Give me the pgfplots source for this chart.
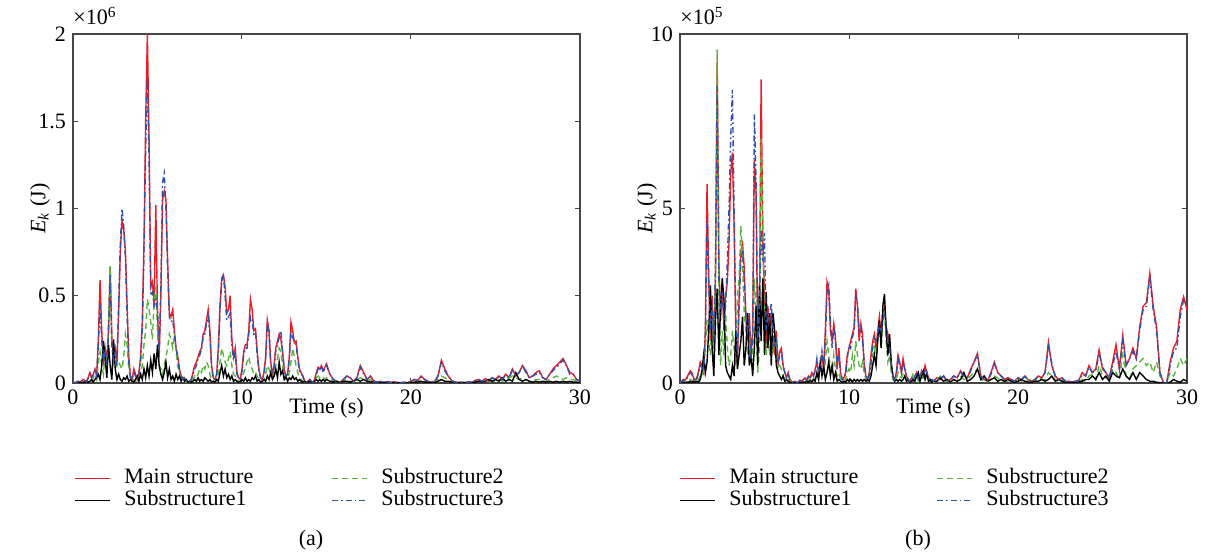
\documentclass[border=0pt]{standalone}
\usepackage{fontspec}
\setmainfont{Liberation Serif}
\usepackage{pgfplots}
\usepackage{pgfplotstable}
\pgfplotsset{compat=1.18}

\definecolor{cmain}{RGB}{237,28,36}
\definecolor{csubtwo}{RGB}{90,180,60}
\definecolor{csubthree}{RGB}{50,80,170}
\definecolor{caxis}{RGB}{70,70,70}

% (a) values in 10^6 J
\pgfplotstableread{
t main s1 s2 s3
0.0 0 0 0 0
0.1 0.002 0.001 0.001 0.002
0.2 0.005 0.002 0.002 0.004
0.3 0.01 0.003 0.004 0.009
0.4 0.006 0.002 0.003 0.005
0.5 0.012 0.004 0.006 0.011
0.6 0.02 0.003 0.008 0.018
0.7 0.015 0.006 0.005 0.014
0.8 0.008 0.002 0.004 0.007
0.9 0.03 0.005 0.01 0.028
1.0 0.06 0.01 0.02 0.055
1.1 0.03 0.02 0.01 0.03
1.2 0.05 0.005 0.03 0.045
1.3 0.08 0.02 0.05 0.07
1.4 0.04 0.03 0.02 0.04
1.5 0.25 0.05 0.12 0.22
1.6 0.59 0.02 0.18 0.45
1.7 0.30 0.10 0.10 0.25
1.8 0.10 0.24 0.05 0.12
1.9 0.20 0.15 0.17 0.18
2.0 0.12 0.03 0.08 0.10
2.1 0.30 0.22 0.35 0.28
2.2 0.66 0.10 0.67 0.62
2.3 0.25 0.02 0.20 0.22
2.4 0.15 0.25 0.12 0.12
2.5 0.20 0.08 0.18 0.18
2.6 0.12 0.02 0.10 0.10
2.7 0.40 0.05 0.12 0.45
2.8 0.75 0.02 0.10 0.80
2.9 0.93 0.01 0.08 1.00
3.0 0.88 0.03 0.15 0.90
3.1 0.76 0.02 0.28 0.72
3.2 0.45 0.04 0.22 0.40
3.3 0.15 0.01 0.08 0.12
3.4 0.04 0.02 0.03 0.03
3.5 0.02 0.01 0.01 0.02
3.6 0.08 0.005 0.02 0.06
3.7 0.05 0.02 0.01 0.04
3.8 0.02 0.04 0.01 0.02
3.9 0.06 0.01 0.03 0.05
4.0 0.15 0.05 0.05 0.12
4.1 0.35 0.02 0.10 0.30
4.2 0.80 0.08 0.22 0.75
4.3 1.50 0.03 0.30 1.35
4.4 2.00 0.10 0.48 1.75
4.5 1.40 0.04 0.42 1.30
4.6 0.55 0.13 0.35 0.50
4.7 0.58 0.06 0.25 0.52
4.8 0.45 0.17 0.48 0.44
4.9 1.02 0.08 0.55 0.48
5.0 0.40 0.22 0.30 0.42
5.1 0.15 0.10 0.10 0.18
5.2 0.50 0.05 0.08 0.55
5.3 1.05 0.02 0.05 1.15
5.4 1.10 0.06 0.10 1.20
5.5 1.05 0.12 0.15 1.00
5.6 0.70 0.03 0.20 0.65
5.7 0.40 0.08 0.28 0.38
5.8 0.38 0.02 0.25 0.35
5.9 0.42 0.04 0.20 0.36
6.0 0.30 0.01 0.28 0.28
6.1 0.20 0.05 0.18 0.20
6.2 0.15 0.02 0.10 0.14
6.3 0.08 0.04 0.05 0.07
6.4 0.04 0.01 0.02 0.04
6.5 0.02 0.03 0.01 0.02
6.6 0.03 0.01 0.02 0.03
6.7 0.01 0.02 0.005 0.01
6.8 0.005 0.005 0.002 0.004
6.9 0.01 0.01 0.005 0.01
7.0 0.02 0.005 0.01 0.02
7.1 0.06 0.01 0.02 0.05
7.2 0.10 0.02 0.04 0.08
7.3 0.12 0.01 0.03 0.10
7.4 0.15 0.03 0.05 0.14
7.5 0.18 0.01 0.08 0.16
7.6 0.20 0.02 0.06 0.19
7.7 0.28 0.01 0.10 0.26
7.8 0.30 0.03 0.08 0.28
7.9 0.36 0.02 0.12 0.34
8.0 0.42 0.01 0.10 0.38
8.1 0.30 0.02 0.05 0.28
8.2 0.10 0.005 0.02 0.09
8.3 0.03 0.01 0.01 0.03
8.4 0.02 0.005 0.005 0.02
8.5 0.05 0.02 0.02 0.04
8.6 0.20 0.01 0.05 0.18
8.7 0.45 0.06 0.12 0.42
8.8 0.60 0.10 0.20 0.58
8.9 0.62 0.04 0.16 0.62
9.0 0.55 0.08 0.12 0.50
9.1 0.40 0.03 0.10 0.36
9.2 0.42 0.05 0.14 0.38
9.3 0.50 0.02 0.18 0.40
9.4 0.25 0.04 0.10 0.22
9.5 0.15 0.01 0.05 0.13
9.6 0.20 0.02 0.04 0.18
9.7 0.06 0.01 0.02 0.05
9.8 0.03 0.005 0.01 0.03
9.9 0.02 0.01 0.01 0.02
10.0 0.08 0.02 0.03 0.07
10.1 0.18 0.01 0.06 0.16
10.2 0.22 0.03 0.09 0.20
10.3 0.22 0.01 0.12 0.20
10.4 0.30 0.02 0.15 0.28
10.5 0.48 0.01 0.10 0.38
10.6 0.42 0.03 0.08 0.36
10.7 0.30 0.02 0.05 0.28
10.8 0.31 0.04 0.06 0.29
10.9 0.18 0.01 0.04 0.16
11.0 0.08 0.02 0.02 0.07
11.1 0.03 0.005 0.01 0.03
11.2 0.02 0.01 0.01 0.02
11.3 0.06 0.02 0.02 0.05
11.4 0.15 0.01 0.05 0.14
11.5 0.36 0.04 0.10 0.35
11.6 0.30 0.02 0.08 0.28
11.7 0.12 0.06 0.05 0.11
11.8 0.05 0.02 0.03 0.05
11.9 0.10 0.04 0.06 0.09
12.0 0.20 0.08 0.10 0.19
12.1 0.24 0.03 0.14 0.22
12.2 0.28 0.12 0.20 0.26
12.3 0.25 0.05 0.18 0.30
12.4 0.18 0.07 0.10 0.18
12.5 0.08 0.02 0.04 0.07
12.6 0.04 0.04 0.02 0.04
12.7 0.05 0.01 0.02 0.05
12.8 0.15 0.03 0.06 0.14
12.9 0.35 0.02 0.12 0.30
13.0 0.30 0.04 0.20 0.26
13.1 0.23 0.02 0.15 0.24
13.2 0.24 0.03 0.10 0.22
13.3 0.15 0.01 0.06 0.14
13.4 0.08 0.02 0.03 0.07
13.5 0.06 0.01 0.02 0.05
13.6 0.04 0.005 0.01 0.04
13.7 0.01 0.01 0.005 0.01
13.8 0.005 0.002 0.002 0.005
13.9 0.01 0.005 0.004 0.01
14.0 0.02 0.01 0.01 0.02
14.1 0.01 0.005 0.005 0.01
14.2 0.005 0.002 0.002 0.004
14.3 0.02 0.01 0.01 0.02
14.4 0.06 0.02 0.03 0.05
14.5 0.09 0.01 0.04 0.08
14.6 0.08 0.02 0.03 0.07
14.7 0.10 0.01 0.04 0.10
14.8 0.07 0.02 0.03 0.06
14.9 0.09 0.01 0.02 0.08
15.0 0.11 0.02 0.03 0.10
15.2 0.05 0.01 0.02 0.05
15.4 0.02 0.005 0.01 0.02
15.6 0.01 0.01 0.005 0.01
15.8 0.005 0.002 0.002 0.005
16.0 0.02 0.01 0.01 0.02
16.2 0.04 0.01 0.02 0.04
16.4 0.03 0.005 0.01 0.03
16.6 0.01 0.01 0.005 0.01
16.8 0.03 0.02 0.02 0.03
17.0 0.10 0.01 0.03 0.09
17.2 0.06 0.02 0.02 0.05
17.4 0.02 0.01 0.01 0.02
17.6 0.04 0.005 0.02 0.04
17.8 0.01 0.01 0.005 0.01
18.0 0.005 0.005 0.002 0.005
18.2 0.01 0.002 0.005 0.01
18.4 0.004 0.002 0.002 0.004
18.6 0.008 0.003 0.004 0.007
18.8 0.003 0.002 0.001 0.003
19.0 0.006 0.002 0.003 0.006
19.2 0.003 0.001 0.001 0.003
19.4 0.002 0.001 0.001 0.002
19.6 0.004 0.002 0.002 0.004
19.8 0.002 0.001 0.001 0.002
20.0 0.01 0.003 0.005 0.01
20.2 0.02 0.005 0.01 0.02
20.4 0.015 0.005 0.005 0.015
20.6 0.04 0.01 0.02 0.035
20.8 0.02 0.005 0.01 0.02
21.0 0.01 0.005 0.005 0.01
21.2 0.005 0.002 0.002 0.005
21.4 0.01 0.003 0.005 0.01
21.6 0.04 0.01 0.02 0.04
21.8 0.13 0.02 0.04 0.12
22.0 0.08 0.01 0.03 0.07
22.2 0.04 0.01 0.02 0.04
22.4 0.015 0.005 0.005 0.015
22.6 0.005 0.002 0.002 0.005
22.8 0.003 0.002 0.001 0.003
23.0 0.004 0.002 0.002 0.004
23.2 0.003 0.001 0.001 0.003
23.4 0.006 0.002 0.003 0.006
23.6 0.004 0.002 0.002 0.004
23.8 0.015 0.005 0.005 0.014
24.0 0.02 0.01 0.01 0.02
24.2 0.01 0.005 0.005 0.01
24.4 0.025 0.01 0.01 0.02
24.6 0.01 0.02 0.005 0.01
24.8 0.03 0.01 0.01 0.03
25.0 0.02 0.02 0.01 0.02
25.2 0.04 0.01 0.02 0.035
25.4 0.02 0.03 0.01 0.02
25.6 0.05 0.01 0.02 0.045
25.8 0.03 0.02 0.03 0.03
26.0 0.08 0.01 0.04 0.07
26.2 0.04 0.06 0.03 0.04
26.4 0.06 0.02 0.02 0.06
26.6 0.10 0.01 0.03 0.10
26.8 0.07 0.02 0.02 0.06
27.0 0.03 0.01 0.01 0.03
27.2 0.04 0.005 0.01 0.04
27.4 0.06 0.01 0.02 0.05
27.6 0.07 0.005 0.02 0.06
27.8 0.03 0.01 0.01 0.03
28.0 0.02 0.005 0.01 0.02
28.2 0.05 0.01 0.02 0.05
28.4 0.08 0.005 0.03 0.07
28.6 0.10 0.01 0.04 0.09
28.8 0.12 0.005 0.03 0.11
29.0 0.14 0.01 0.02 0.13
29.2 0.10 0.005 0.03 0.10
29.4 0.06 0.01 0.02 0.05
29.6 0.05 0.005 0.02 0.05
29.8 0.02 0.005 0.01 0.02
30.0 0.01 0.002 0.005 0.01
}\dataA

% (b) values in 10^5 J
\pgfplotstableread{
t main s1 s2 s3
0.0 0 0 0 0
0.1 0.05 0.01 0.02 0.04
0.2 0.1 0.02 0.03 0.08
0.3 0.08 0.01 0.02 0.07
0.4 0.15 0.03 0.05 0.12
0.5 0.25 0.02 0.08 0.2
0.6 0.35 0.05 0.1 0.3
0.7 0.30 0.02 0.08 0.25
0.8 0.15 0.05 0.05 0.12
0.9 0.08 0.02 0.03 0.06
1.0 0.15 0.05 0.06 0.12
1.1 0.35 0.03 0.1 0.3
1.2 0.6 0.1 0.2 0.5
1.3 0.5 0.35 0.15 0.45
1.4 0.3 0.8 0.4 0.35
1.5 1.5 0.3 1.0 1.4
1.6 5.7 0.6 1.8 4.7
1.7 3.0 1.5 1.2 2.8
1.8 1.2 2.8 0.8 1.5
1.9 2.5 1.0 2.0 2.2
2.0 1.0 0.2 0.5 1.2
2.1 3.0 1.8 3.5 3.2
2.2 9.2 2.7 9.55 8.5
2.3 3.5 0.8 2.5 3.0
2.4 1.8 2.2 0.5 2.0
2.5 2.8 3.0 1.5 2.6
2.6 1.5 2.4 0.8 1.8
2.7 2.5 0.5 2.0 2.2
2.8 2.9 0.3 1.0 3.5
2.9 4.0 0.2 0.5 5.0
3.0 6.0 0.1 0.8 7.0
3.1 6.6 0.5 1.5 8.4
3.2 4.5 0.2 1.0 5.0
3.3 1.5 1.5 0.5 1.8
3.4 0.6 0.4 2.5 0.8
3.5 2.5 0.8 3.0 2.2
3.6 3.8 1.2 4.5 3.5
3.7 4.0 1.9 3.5 3.8
3.8 3.3 0.5 2.0 3.0
3.9 1.8 1.0 1.5 2.0
4.0 1.2 2.0 0.8 1.5
4.1 2.0 0.5 1.5 1.8
4.2 0.8 0.8 0.5 0.7
4.3 1.5 0.2 0.8 1.3
4.4 6.4 1.0 3.0 7.7
4.5 5.5 2.2 2.0 5.8
4.6 1.0 0.5 0.3 1.2
4.7 1.8 2.8 1.0 2.2
4.8 8.7 1.2 7.0 4.4
4.9 4.0 3.0 4.5 3.5
5.0 2.5 0.8 1.5 4.3
5.1 1.0 2.6 0.8 1.5
5.2 2.2 1.0 1.5 2.0
5.3 1.5 2.0 0.8 1.8
5.4 2.0 0.5 1.2 2.3
5.5 1.2 2.0 0.8 1.5
5.6 0.8 1.5 1.3 1.0
5.7 1.5 0.5 1.0 1.2
5.8 0.5 0.3 0.4 0.6
5.9 0.9 0.2 0.5 0.8
6.0 1.0 0.1 0.4 0.9
6.1 0.5 0.2 0.2 0.5
6.2 0.3 0.05 0.1 0.3
6.3 0.15 0.1 0.05 0.15
6.4 0.3 0.05 0.1 0.25
6.5 0.1 0.02 0.05 0.1
6.6 0.05 0.01 0.02 0.04
6.7 0.02 0.01 0.01 0.02
6.8 0.05 0.01 0.02 0.05
6.9 0.01 0.005 0.005 0.01
7.0 0.03 0.01 0.01 0.03
7.1 0.08 0.02 0.03 0.07
7.2 0.05 0.01 0.02 0.05
7.3 0.1 0.03 0.05 0.1
7.4 0.15 0.02 0.08 0.14
7.5 0.08 0.05 0.05 0.08
7.6 0.2 0.02 0.1 0.18
7.7 0.15 0.08 0.05 0.12
7.8 0.3 0.03 0.12 0.25
7.9 0.2 0.1 0.08 0.2
8.0 0.4 0.05 0.15 0.35
8.1 0.6 0.3 0.2 0.7
8.2 0.3 0.1 0.1 0.35
8.3 0.5 0.6 0.4 0.4
8.4 0.8 0.2 0.3 0.9
8.5 0.4 0.5 0.2 0.5
8.6 1.5 0.1 0.6 1.2
8.7 2.9 0.3 1.2 2.6
8.8 2.7 0.6 0.8 2.8
8.9 1.5 0.2 0.5 1.8
9.0 1.2 0.5 0.3 1.0
9.1 1.7 0.1 0.8 1.6
9.2 1.3 0.3 0.4 1.2
9.3 0.4 0.05 0.2 0.5
9.4 1.0 0.1 0.3 0.8
9.5 0.3 0.05 0.1 0.3
9.6 0.1 0.02 0.05 0.1
9.7 0.15 0.05 0.05 0.12
9.8 0.3 0.02 0.1 0.25
9.9 0.8 0.1 0.3 0.7
10.0 1.0 0.05 0.4 1.1
10.1 1.2 0.1 0.3 1.0
10.2 1.4 0.03 0.8 1.3
10.3 1.6 0.1 0.5 1.5
10.4 2.7 0.05 1.2 2.5
10.5 2.2 0.1 0.8 2.3
10.6 1.2 0.05 0.5 1.5
10.7 1.7 0.1 0.4 1.6
10.8 1.4 0.05 0.6 1.2
10.9 0.5 0.1 0.3 0.6
11.0 0.2 0.05 0.1 0.2
11.1 0.1 0.1 0.05 0.1
11.2 0.3 0.05 0.1 0.25
11.3 0.8 0.2 0.4 0.6
11.4 1.2 0.5 0.8 1.0
11.5 1.4 0.8 1.0 1.3
11.6 1.0 0.5 0.5 1.2
11.7 1.5 1.2 1.4 1.3
11.8 1.9 1.8 1.6 1.7
11.9 1.3 1.0 1.0 1.5
12.0 2.0 2.2 1.8 1.8
12.1 2.2 2.55 2.0 2.0
12.2 1.6 1.5 1.2 1.7
12.3 1.4 0.8 0.6 1.2
12.4 1.2 1.4 0.8 1.0
12.5 0.5 0.6 0.3 0.5
12.6 0.2 0.2 0.1 0.2
12.7 0.1 0.05 0.05 0.1
12.8 0.3 0.1 0.1 0.25
12.9 0.8 0.05 0.3 0.7
13.0 0.6 0.1 0.2 0.5
13.1 0.3 0.05 0.15 0.3
13.2 0.7 0.1 0.25 0.6
13.3 0.4 0.2 0.2 0.4
13.4 0.2 0.05 0.1 0.2
13.5 0.1 0.1 0.05 0.1
13.6 0.05 0.02 0.02 0.05
13.7 0.15 0.05 0.1 0.15
13.8 0.05 0.1 0.3 0.08
13.9 0.2 0.05 0.1 0.2
14.0 0.3 0.2 0.15 0.25
14.1 0.1 0.3 0.05 0.1
14.2 0.2 0.05 0.3 0.18
14.3 0.35 0.2 0.2 0.3
14.4 0.2 0.35 0.1 0.25
14.5 0.5 0.1 0.2 0.4
14.6 0.3 0.3 0.25 0.3
14.7 0.15 0.05 0.1 0.15
14.8 0.05 0.1 0.05 0.05
14.9 0.1 0.02 0.05 0.1
15.0 0.05 0.05 0.02 0.05
15.2 0.15 0.05 0.1 0.12
15.4 0.1 0.15 0.2 0.1
15.6 0.2 0.05 0.1 0.2
15.8 0.05 0.1 0.05 0.05
16.0 0.1 0.03 0.05 0.1
16.2 0.2 0.1 0.1 0.2
16.4 0.15 0.05 0.05 0.15
16.6 0.35 0.1 0.2 0.3
16.8 0.2 0.3 0.1 0.2
17.0 0.15 0.05 0.1 0.15
17.2 0.4 0.1 0.2 0.35
17.4 0.6 0.2 0.3 0.6
17.6 0.85 0.4 0.4 0.8
17.8 0.2 0.1 0.1 0.2
18.0 0.1 0.2 0.05 0.1
18.2 0.05 0.05 0.03 0.05
18.4 0.3 0.1 0.1 0.25
18.6 0.6 0.15 0.2 0.55
18.8 0.3 0.05 0.15 0.3
19.0 0.2 0.1 0.05 0.2
19.2 0.1 0.05 0.05 0.1
19.4 0.15 0.1 0.05 0.15
19.6 0.1 0.05 0.1 0.1
19.8 0.05 0.02 0.05 0.05
20.0 0.15 0.05 0.1 0.15
20.2 0.1 0.1 0.05 0.1
20.4 0.2 0.05 0.25 0.18
20.6 0.1 0.03 0.05 0.1
20.8 0.05 0.02 0.03 0.05
21.0 0.1 0.05 0.05 0.1
21.2 0.2 0.05 0.15 0.18
21.4 0.15 0.1 0.1 0.15
21.6 0.3 0.05 0.1 0.3
21.8 1.17 0.1 0.3 1.05
22.0 0.5 0.2 0.2 0.55
22.2 0.2 0.05 0.1 0.2
22.4 0.1 0.1 0.05 0.1
22.6 0.15 0.05 0.1 0.15
22.8 0.05 0.02 0.03 0.05
23.0 0.05 0.01 0.02 0.05
23.2 0.03 0.02 0.01 0.03
23.4 0.05 0.01 0.02 0.05
23.6 0.08 0.03 0.03 0.07
23.8 0.3 0.05 0.1 0.25
24.0 0.2 0.1 0.05 0.2
24.2 0.5 0.1 0.2 0.45
24.4 0.3 0.2 0.25 0.3
24.6 0.4 0.1 0.1 0.35
24.8 0.95 0.3 0.5 0.85
25.0 0.4 0.1 0.2 0.45
25.2 0.3 0.2 0.15 0.3
25.4 0.15 0.05 0.1 0.15
25.6 0.6 0.3 0.4 0.5
25.8 1.1 0.2 0.3 0.9
26.0 0.4 0.15 0.1 0.4
26.2 1.37 0.4 0.8 1.2
26.4 0.5 0.2 0.2 0.5
26.6 0.7 0.1 0.1 0.7
26.8 1.0 0.3 0.4 0.9
27.0 0.7 0.1 0.5 0.7
27.2 1.6 0.3 0.6 1.5
27.4 2.2 0.2 0.7 2.1
27.6 2.3 0.1 0.5 2.2
27.8 3.15 0.05 0.6 3.05
28.0 2.2 0.05 0.3 2.1
28.2 1.6 0.02 0.6 1.5
28.4 0.3 0.01 0.2 0.3
28.6 0.0 0.0 0.0 0.0
28.8 0.0 0.0 0.0 0.0
29.0 0.6 0.02 0.3 0.5
29.2 1.0 0.1 0.2 0.9
29.4 1.2 0.05 0.4 1.0
29.6 2.1 0.02 0.7 1.9
29.8 2.47 0.1 0.5 2.4
30.0 2.1 0.05 0.7 2.2
}\dataB

\tikzset{
  mainst/.style={draw=cmain, line width=0.7pt},
  subone/.style={draw=black, line width=0.7pt},
  subtwo/.style={draw=csubtwo, line width=0.7pt, dash pattern=on 3pt off 2pt},
  subthree/.style={draw=csubthree, line width=0.7pt, dash pattern=on 3pt off 1.5pt on 0.8pt off 1.5pt},
}

\pgfplotsset{
  kplot/.style={
    scale only axis, width=253.5pt, height=174.5pt,
    xmin=0, xmax=30, xtick={0,10,20,30},
    ymin=0,
    axis line style={caxis, line width=0.6pt},
    every tick/.style={caxis, line width=0.5pt},
    tick align=inside, major tick length=2.5pt,
    font=\fontsize{11}{13}\selectfont,
    /pgf/number format/assume math mode=true,
    scaled ticks=false,
    xlabel={Time (s)},
    ylabel={{\itshape E}\textsubscript{\itshape k} (J)},
    xlabel style={at={(axis description cs:0.5,-0.072)}, anchor=center},
    ylabel style={at={(axis description cs:-0.065,0.5)}, anchor=center},
  },
}

% key below an axis: #1 axis name, #2 horizontal offset
\newcommand{\kkey}[2]{%
  \begin{scope}[shift={([xshift=#2]#1.south west)}, font=\fontsize{11}{13}\selectfont]
    \draw[mainst, color=cmain, line width=0.85pt]   (0pt,-47.7pt) -- (17.5pt,-47.7pt);
    \node[anchor=base west, inner sep=0pt] at (24.5pt,-50.5pt) {Main structure};
    \draw[subone, color=black, line width=0.85pt]   (0pt,-58.7pt) -- (17.5pt,-58.7pt);
    \node[anchor=base west, inner sep=0pt] at (24.5pt,-61.5pt) {Substructure1};
    \draw[subtwo, color=csubtwo, line width=0.85pt]   (128.5pt,-47.7pt) -- (146pt,-47.7pt);
    \node[anchor=base west, inner sep=0pt] at (153pt,-50.5pt) {Substructure2};
    \draw[subthree, color=csubthree, line width=0.85pt] (128.5pt,-58.7pt) -- (146pt,-58.7pt);
    \node[anchor=base west, inner sep=0pt] at (153pt,-61.5pt) {Substructure3};
  \end{scope}}

\begin{document}
\begin{tikzpicture}
\useasboundingbox (-36.5pt,-86.5pt) rectangle (566pt,191.5pt);

\begin{axis}[kplot, name=pa, at={(0pt,0pt)}, anchor=south west,
  ymax=2, ytick={0,0.5,1,1.5,2}]
\addplot[mainst] table[x=t,y=main] {\dataA};
\addplot[subtwo] table[x=t,y=s2] {\dataA};
\addplot[subone] table[x=t,y=s1] {\dataA};
\addplot[subthree] table[x=t,y=s3] {\dataA};
\end{axis}
\node[anchor=base west, inner sep=0pt, font=\fontsize{11}{13}\selectfont]
  at ([yshift=4.5pt]pa.north west) {×10\textsuperscript{6}};
\kkey{pa}{1pt}
\node[font=\fontsize{11}{13}\selectfont] at ([xshift=119pt,yshift=-78.5pt]pa.south west) {(a)};

\begin{axis}[kplot, name=pb, at={(303.5pt,0pt)}, anchor=south west,
  ymax=10, ytick={0,5,10}]
\addplot[mainst] table[x=t,y=main] {\dataB};
\addplot[subtwo] table[x=t,y=s2] {\dataB};
\addplot[subone] table[x=t,y=s1] {\dataB};
\addplot[subthree] table[x=t,y=s3] {\dataB};
\end{axis}
\node[anchor=base west, inner sep=0pt, font=\fontsize{11}{13}\selectfont]
  at ([yshift=4.5pt]pb.north west) {×10\textsuperscript{5}};
\kkey{pb}{0pt}
\node[font=\fontsize{11}{13}\selectfont] at ([xshift=119pt,yshift=-78.5pt]pb.south west) {(b)};
\end{tikzpicture}
\end{document}
